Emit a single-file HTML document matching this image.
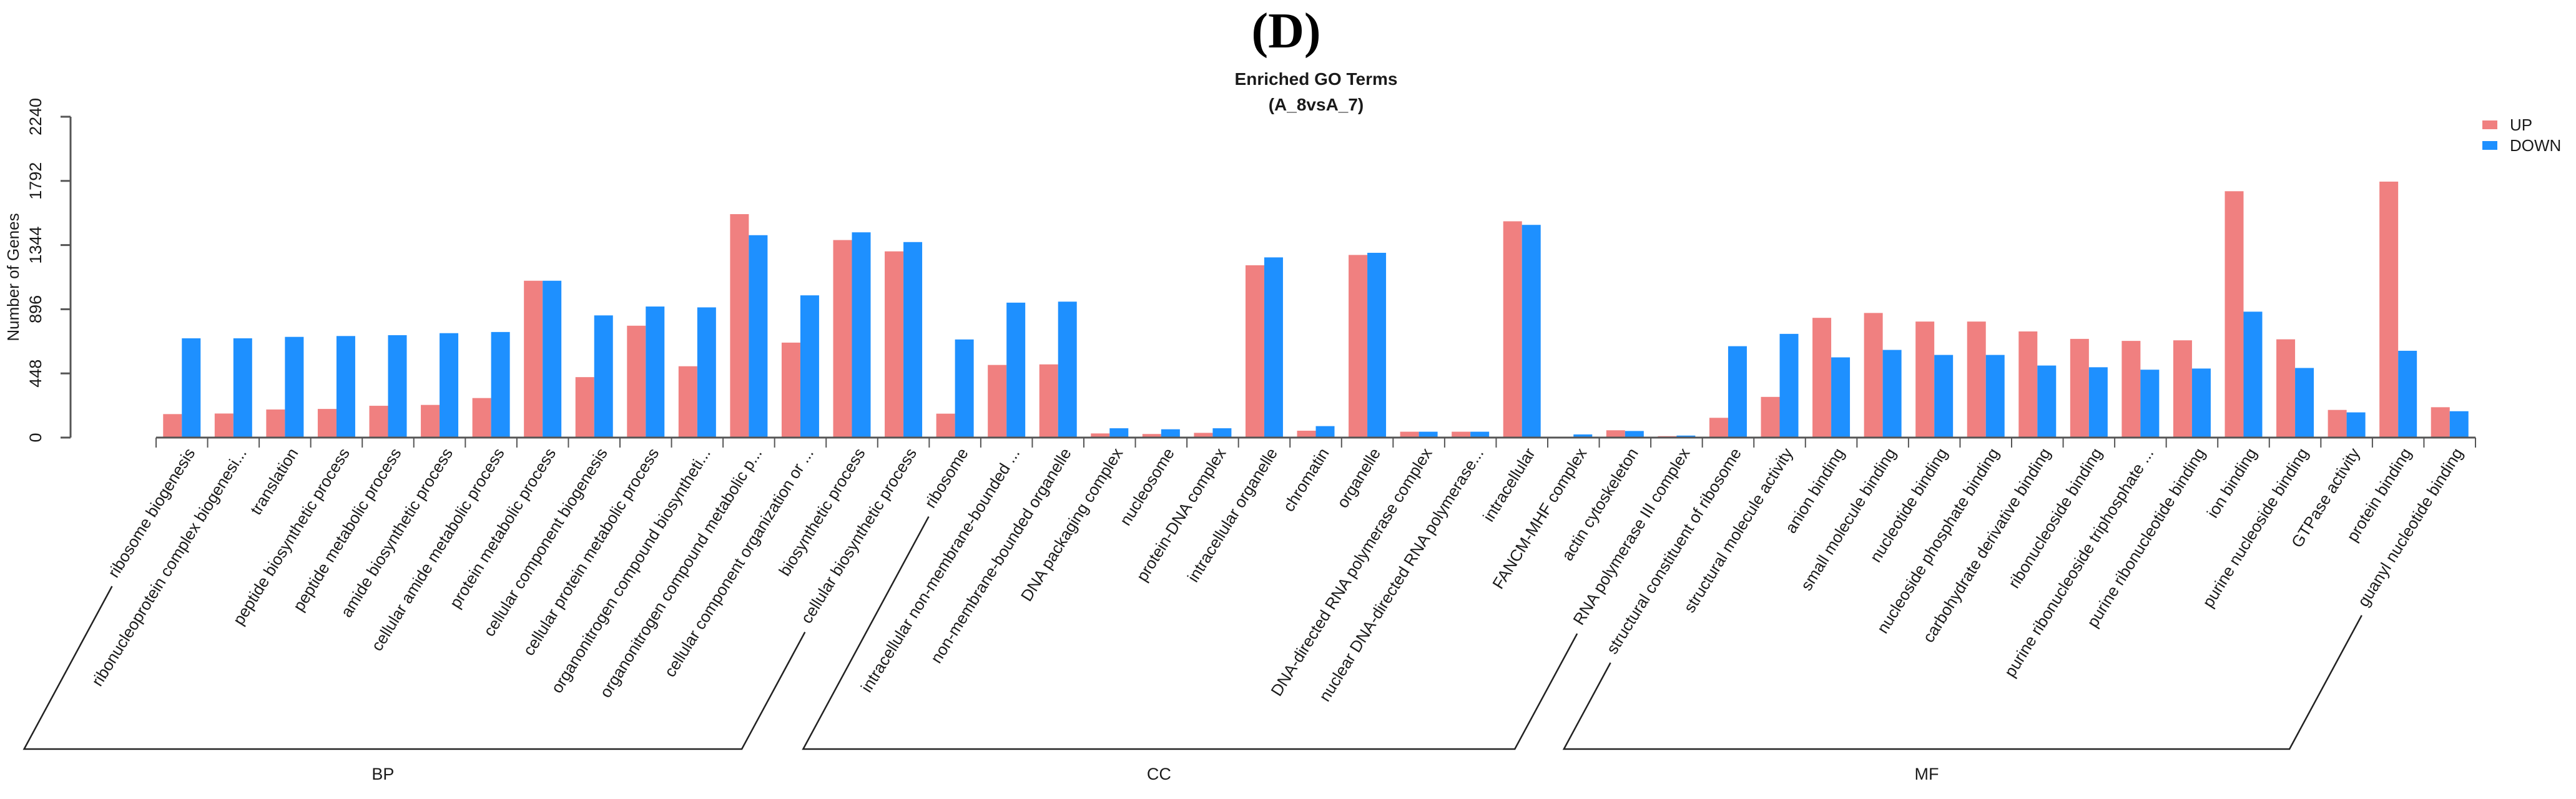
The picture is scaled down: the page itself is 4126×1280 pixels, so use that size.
<!DOCTYPE html>
<html><head><meta charset="utf-8"><title>Enriched GO Terms</title>
<style>
html,body{margin:0;padding:0;background:#fff;}
svg{display:block;}
text{font-family:"Liberation Sans",Arial,sans-serif;fill:#1a1a1a;}
</style></head>
<body>
<svg id="chart" width="4126" height="1280" viewBox="0 0 4126 1280" xmlns="http://www.w3.org/2000/svg">
  <text x="2060" y="76" text-anchor="middle" style="font-family:'Liberation Serif',serif;font-size:80px;font-weight:bold;fill:#000">(D)</text>
  <text x="2108" y="136" text-anchor="middle" style="font-size:28px;font-weight:bold">Enriched GO Terms</text>
  <text x="2108" y="177" text-anchor="middle" style="font-size:28px;font-weight:bold">(A_8vsA_7)</text>
  <text transform="translate(30,444) rotate(-90)" text-anchor="middle" style="font-size:26px">Number of Genes</text>
  <g>
    <rect x="3976" y="193" width="24" height="14" fill="#F08080"/>
    <text x="4020" y="209" style="font-size:26px">UP</text>
    <rect x="3976" y="226" width="24" height="14" fill="#1E90FF"/>
    <text x="4020" y="242" style="font-size:26px">DOWN</text>
  </g>
  <g id="bars"></g>
  <g id="axes"></g>
  <g id="labels"></g>
  <g id="groups"></g>
</svg>
<script>
const categories = ["ribosome biogenesis","ribonucleoprotein complex biogenesi...","translation","peptide biosynthetic process","peptide metabolic process","amide biosynthetic process","cellular amide metabolic process","protein metabolic process","cellular component biogenesis","cellular protein metabolic process","organonitrogen compound biosyntheti...","organonitrogen compound metabolic p...","cellular component organization or ...","biosynthetic process","cellular biosynthetic process",
"ribosome","intracellular non-membrane-bounded ...","non-membrane-bounded organelle","DNA packaging complex","nucleosome","protein-DNA complex","intracellular organelle","chromatin","organelle","DNA-directed RNA polymerase complex","nuclear DNA-directed RNA polymerase...","intracellular","FANCM-MHF complex","actin cytoskeleton","RNA polymerase III complex",
"structural constituent of ribosome","structural molecule activity","anion binding","small molecule binding","nucleotide binding","nucleoside phosphate binding","carbohydrate derivative binding","ribonucleoside binding","purine ribonucleoside triphosphate ...","purine ribonucleotide binding","ion binding","purine nucleoside binding","GTPase activity","protein binding","guanyl nucleotide binding"];
const upValues = [164,168,196,200,222,228,276,1095,422,781,498,1560,663,1379,1300,
167,507,511,29,25,33,1203,48,1275,41,41,1510,3,51,10,
138,284,836,870,810,810,741,689,675,679,1720,686,193,1787,212];
const downValues = [693,693,703,709,715,729,737,1095,853,915,909,1413,993,1433,1365,
685,942,949,65,58,65,1258,80,1290,41,41,1485,22,46,14,
638,724,560,612,577,577,503,491,474,482,879,486,176,606,184];
const yTicks = [0,448,896,1344,1792,2240];
const groupNames = ["BP","CC","MF"];
const groupSizes = [15,15,15];

const NS="http://www.w3.org/2000/svg";
const X0=250, X1=3965, Y0=701, YTOP=187, YMAX=2240;
const slot=(X1-X0)/categories.length;
function xScale(i){return X0+slot*i;}
function yScale(v){return Y0-(v/YMAX)*(Y0-YTOP);}
function mk(tag,attrs,parent){const e=document.createElementNS(NS,tag);for(const k in attrs)e.setAttribute(k,attrs[k]);parent.appendChild(e);return e;}

const gBars=document.getElementById('bars');
const BW=30;
categories.forEach((c,i)=>{
  const cx=xScale(i)+slot/2;
  const r=mk('rect',{x:cx-BW,y:yScale(upValues[i]),width:BW,height:Y0-yScale(upValues[i]),fill:'#F08080'},gBars);
  
  
  const b=mk('rect',{x:cx,y:yScale(downValues[i]),width:BW,height:Y0-yScale(downValues[i]),fill:'#1E90FF'},gBars);
  
  
});

const gAx=document.getElementById('axes');
const yl=mk('line',{x1:113,y1:yScale(YMAX),x2:113,y2:Y0,stroke:'#555','stroke-width':3},gAx);


yTicks.forEach(t=>{
  const tk=mk('line',{x1:97,y1:yScale(t),x2:113,y2:yScale(t),stroke:'#555','stroke-width':3},gAx);
  
  
  const tl=mk('text',{transform:`translate(66,${yScale(t)}) rotate(-90)`,'text-anchor':'middle',style:'font-size:27px'},gAx);
  tl.textContent=String(t);
  
  
});
const xl=mk('line',{x1:X0,y1:Y0,x2:X1,y2:Y0,stroke:'#555','stroke-width':3},gAx);


for(let i=0;i<=categories.length;i++){
  const tk=mk('line',{x1:xScale(i),y1:Y0,x2:xScale(i),y2:717,stroke:'#555','stroke-width':2},gAx);
  
  
}

const gLab=document.getElementById('labels');
const ANG=58, ca=Math.cos(ANG*Math.PI/180), sa=Math.sin(ANG*Math.PI/180);
const starts=[];
categories.forEach((c,i)=>{
  const ex=xScale(i)+slot/2+22, ey=725;
  const t=mk('text',{transform:`translate(${ex},${ey}) rotate(-${ANG})`,'text-anchor':'end',style:'font-size:26px'},gLab);
  t.textContent=c;
  
  
  const L=t.getComputedTextLength()+14;
  starts.push([ex-L*ca, ey+L*sa]);
});

const gGrp=document.getElementById('groups');
const YB=1200, SL=0.54;
let idx=0;
groupNames.forEach((g,k)=>{
  const a=idx, b=idx+groupSizes[k]-1; idx+=groupSizes[k];
  const [tx1,ty1]=starts[a], [tx2,ty2]=starts[b];
  const bx1=tx1-(YB-ty1)*SL, bx2=tx2-(YB-ty2)*SL;
  const p=mk('polyline',{points:`${tx1},${ty1} ${bx1},${YB} ${bx2},${YB} ${tx2},${ty2}`,fill:'none',stroke:'#222','stroke-width':2.5},gGrp);
  
  
  const gl=mk('text',{x:(bx1+bx2)/2,y:1249,'text-anchor':'middle',style:'font-size:27px'},gGrp);
  gl.textContent=g;
  
  
});
</script>
</body></html>
